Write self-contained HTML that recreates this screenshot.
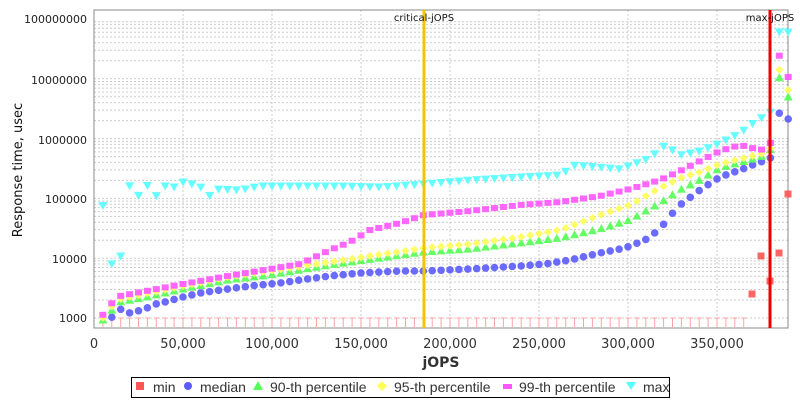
<!DOCTYPE html>
<html><head><meta charset="utf-8"><style>
body{margin:0;background:#fff;width:800px;height:400px;overflow:hidden;font-family:"Liberation Sans","DejaVu Sans",sans-serif}
svg{display:block}
text{font-family:"DejaVu Sans","Liberation Sans",sans-serif}
.lg text{font-family:"Liberation Sans",sans-serif}
</style></head><body>
<svg id="s" width="800" height="400" xmlns="http://www.w3.org/2000/svg">
<rect x="0" y="0" width="800" height="400" fill="#fff"/>
<g id="grid"></g>
<rect x="94" y="10" width="694" height="318" fill="none" stroke="#888" stroke-width="1"/>
<g font-size="11" fill="#222" text-anchor="end">
<text x="87" y="23">100000000</text>
<text x="87" y="84">10000000</text>
<text x="87" y="144">1000000</text>
<text x="87" y="203">100000</text>
<text x="87" y="263">10000</text>
<text x="87" y="322">1000</text>
</g>
<g font-size="13" fill="#333" text-anchor="middle">
<text x="94" y="348">0</text>
<text x="183" y="348">50,000</text>
<text x="272" y="348">100,000</text>
<text x="361" y="348">150,000</text>
<text x="450" y="348">200,000</text>
<text x="539" y="348">250,000</text>
<text x="628" y="348">300,000</text>
<text x="717" y="348">350,000</text>
</g>
<text x="441" y="367" font-size="14" font-weight="bold" fill="#333" text-anchor="middle">jOPS</text>
<text transform="translate(22,170) rotate(-90)" font-size="13" fill="#111" text-anchor="middle">Response time, usec</text>
<g id="pts" opacity="0.9"></g>
<rect x="422.5" y="10" width="3" height="318" fill="#f5c400"/>
<rect x="768.5" y="10" width="3" height="318" fill="#ee0000"/>
<text x="424" y="21" font-size="10" fill="#111" text-anchor="middle">critical-jOPS</text>
<text x="770" y="21" font-size="10" fill="#111" text-anchor="middle">max-jOPS</text>
<rect x="131.5" y="377.5" width="538" height="20" fill="#fff" stroke="#000"/>
<g class="lg" font-size="14" fill="#333">
<rect x="136" y="382" width="8" height="8" fill="#f55"/><text x="153" y="392">min</text>
<circle cx="188" cy="386" r="4" fill="#5c5cff"/><text x="200" y="392">median</text>
<polygon points="258,381 263,390 253,390" fill="#5f5"/><text x="270" y="392">90-th percentile</text>
<polygon points="382,381 387,386 382,391 377,386" fill="#ff5"/><text x="394" y="392">95-th percentile</text>
<rect x="503" y="384" width="9" height="5" fill="#f5f"/><text x="519" y="392">99-th percentile</text>
<polygon points="626,382 636,382 631,390" fill="#5ff"/><text x="643" y="392">max</text>
</g>
</svg>
<script>
var NS="http://www.w3.org/2000/svg",g=document.getElementById('grid'),P=document.getElementById('pts');
function el(t,a,p){var e=document.createElementNS(NS,t);for(var k in a)e.setAttribute(k,a[k]);(p||P).appendChild(e);return e;}
for(var d=0;d<5;d++){for(var m=1;m<10;m++){var y=318-(d+Math.log10(m))*59.8;if(y<10)continue;el('line',{x1:94,x2:788,y1:y,y2:y,stroke:'#ccc','stroke-dasharray':'2,2','stroke-width':1},g);}}
for(var i=1;i<8;i++){var x=94+i*89;el('line',{x1:x,x2:x,y1:10,y2:328,stroke:'#ccc','stroke-dasharray':'2,2'},g);}
function interp(k,x){for(var i=0;i<k.length-1;i++){if(x<=k[i+1][0]){var a=k[i],b=k[i+1];return a[1]+(b[1]-a[1])*(x-a[0])/(b[0]-a[0]);}}return k[k.length-1][1];}
var xs=[];for(var i=1;i<=78;i++){var x=94+i*8.9;if(x>789)break;xs.push(x);}
var med=[[111,318],[120,309],[129,313],[138,311],[147,308],[156,304],[165,302],[183,297],[200,293],[228,289],[250,286],[280,283],[300,280],[330,276],[360,273],[400,271],[424,271],[470,269],[520,266],[545,264],[570,260],[600,253],[625,248],[645,240],[660,229],[670,216],[680,205],[700,190],[720,177],[740,170],[760,162],[770,160],[779,113],[788,119]];
var p90=[[102,321],[111,311],[120,302],[147,297],[183,289],[228,280],[270,275],[330,265],[380,258],[424,252],[470,249],[520,243],[560,238],[600,229],[630,220],[660,203],[680,190],[700,180],[720,168],[760,157],[770,153],[779,77],[788,97]];
var p95=[[102,319],[111,307],[120,299],[183,286],[228,277],[330,262],[424,248],[470,244],[520,237],[560,230],[600,215],[630,205],[660,188],[680,178],[700,172],[720,164],[760,154],[770,152],[779,69],[788,90]];
var p99=[[102,316],[111,304],[120,296],[183,284],[228,276],[300,264],[330,250],[350,242],[370,230],[400,223],[424,215],[470,211],[520,205],[560,202],[600,196],[630,189],[660,180],[680,171],[700,161],[720,151],[740,145],[760,150],[770,147],[779,55],[788,77]];
var mx=[[102,199],[111,264],[120,262],[129,185],[138,196],[147,185],[156,196],[165,186],[174,187],[183,182],[192,184],[200,186],[208,197],[217,189],[240,190],[260,186],[300,186],[340,186],[380,187],[424,184],[470,180],[520,177],[560,175],[575,165],[620,169],[650,158],[665,145],[680,155],[700,151],[720,143],[740,133],[760,118],[770,116],[779,32],[788,32]];
xs.forEach(function(x){if(x<745){el('line',{x1:x,x2:x,y1:318,y2:327,stroke:'#f99'});el('line',{x1:x-2.5,x2:x+2.5,y1:318,y2:318,stroke:'#f99'});}});
[[752,294],[761,256],[770,281],[779,253],[788,194]].forEach(function(p){el('rect',{x:p[0]-3.5,y:p[1]-3.5,width:7,height:7,fill:'#f55'});});
xs.forEach(function(x){if(x<110)return;var y=interp(med,x);el('circle',{cx:x,cy:y,r:3.8,fill:'#5c5cff'});});
xs.forEach(function(x){var y=interp(p90,x);el('polygon',{points:(x)+','+(y-4.5)+' '+(x+4.5)+','+(y+3.5)+' '+(x-4.5)+','+(y+3.5),fill:'#5f5'});});
xs.forEach(function(x){var y=interp(p95,x);el('polygon',{points:x+','+(y-4)+' '+(x+4)+','+y+' '+x+','+(y+4)+' '+(x-4)+','+y,fill:'#ff5'});});
xs.forEach(function(x){var y=interp(p99,x);el('rect',{x:x-3.5,y:y-3,width:7,height:6,fill:'#f5f'});});
xs.forEach(function(x){var y=interp(mx,x);el('polygon',{points:(x-4.5)+','+(y-3.5)+' '+(x+4.5)+','+(y-3.5)+' '+x+','+(y+4.5),fill:'#5ff'});});
</script>
</body></html>
